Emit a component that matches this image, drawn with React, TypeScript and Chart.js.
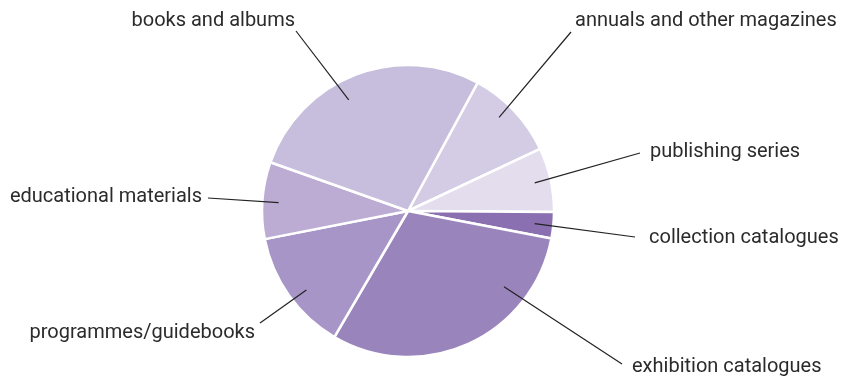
import React, { useEffect, useRef } from "react";
import { Chart, registerables } from "chart.js";

Chart.register(...registerables);

const categories = [
  "annuals and other magazines",
  "publishing series",
  "collection catalogues",
  "exhibition catalogues",
  "programmes/guidebooks",
  "educational materials",
  "books and albums",
];
const shares = [10.1, 7.1, 2.9, 30.4, 13.5, 8.5, 27.5];
const sliceColors = ["#d4cce5", "#e3ddee", "#8a70b0", "#9984bc", "#a895c8", "#bcacd3", "#c7bedd"];

// label layout: anchor inside slice (angle from top clockwise, fraction of radius), line end, text position
const labelLayout = [
  { angle: 44.2, frac: 0.895, ex: 571, ey: 32, tx: 575, ty: 26, align: "left" },
  { angle: 77.5, frac: 0.889, ex: 640, ey: 153, tx: 650, ty: 157, align: "left" },
  { angle: 95.7, frac: 0.872, ex: 635, ey: 237, tx: 649, ty: 243, align: "left" },
  { angle: 128.3, frac: 0.838, ex: 622, ey: 364, tx: 632, ty: 372, align: "left" },
  { angle: 232.1, frac: 0.882, ex: 260, ey: 323, tx: 255, ty: 338, align: "right" },
  { angle: 273.7, frac: 0.888, ex: 208, ey: 198, tx: 202, ty: 202, align: "right" },
  { angle: 331.9, frac: 0.862, ex: 296, ey: 31, tx: 295, ty: 26, align: "right" },
];

const labelPlugin = {
  id: "leaderLabels",
  afterDraw(chart: any) {
    const ctx = chart.ctx;
    const meta = chart.getDatasetMeta(0);
    const arc0 = meta.data[0];
    if (!arc0) return;
    const cx = arc0.x;
    const cy = arc0.y;
    const r = arc0.outerRadius;
    ctx.save();
    ctx.strokeStyle = "#222";
    ctx.lineWidth = 1.2;
    ctx.fillStyle = "#2b2b2b";
    ctx.font = "20px Roboto";
    ctx.textBaseline = "alphabetic";
    chart.data.labels.forEach((label: string, i: number) => {
      const l = labelLayout[i];
      const a = (l.angle * Math.PI) / 180;
      const ax = cx + Math.sin(a) * r * l.frac;
      const ay = cy - Math.cos(a) * r * l.frac;
      ctx.beginPath();
      ctx.moveTo(ax, ay);
      ctx.lineTo(l.ex, l.ey);
      ctx.stroke();
      ctx.textAlign = l.align;
      ctx.fillText(label, l.tx, l.ty);
    });
    ctx.restore();
  },
};

export default function App() {
  const ref = useRef<HTMLCanvasElement | null>(null);
  useEffect(() => {
    if (!ref.current) return;
    const chart = new Chart(ref.current, {
      type: "pie",
      data: {
        labels: categories,
        datasets: [
          {
            data: shares,
            backgroundColor: sliceColors,
            borderColor: "#ffffff",
            borderWidth: 2.5,
          },
        ],
      },
      options: {
        animation: false,
        responsive: false,
        rotation: 28.5,
        radius: 146,
        layout: { padding: { left: 0, right: 33, top: 45, bottom: 0 } },
        plugins: { legend: { display: false }, tooltip: { enabled: false } },
      },
      plugins: [labelPlugin],
    });
    return () => chart.destroy();
  }, []);
  return (
    <div style={{ position: "fixed", left: 0, top: 0, width: 849, height: 377, background: "#fff" }}>
      <canvas ref={ref} width={849} height={377} style={{ width: 849, height: 377, display: "block" }} />
    </div>
  );
}
